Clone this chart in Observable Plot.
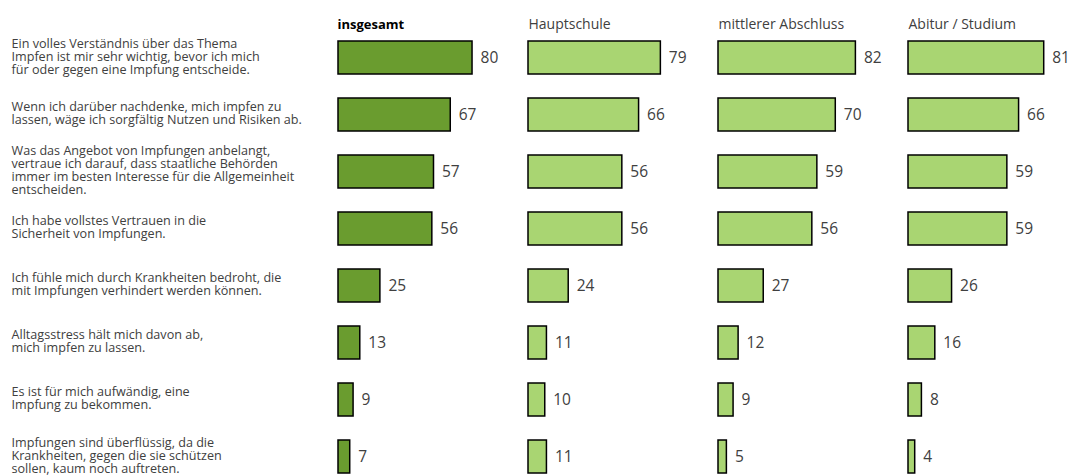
<!DOCTYPE html>
<html>
<head>
<meta charset="utf-8">
<script src="https://cdn.jsdelivr.net/npm/d3@7"></script>
<script src="https://cdn.jsdelivr.net/npm/@observablehq/plot@0.6"></script>
<style>
  html, body { margin: 0; padding: 0; background: #fff; overflow: hidden; }
  svg { font-family: "Open Sans", sans-serif; }
</style>
</head>
<body>
<div id="chart"></div>
<script>
const groups = ["insgesamt", "Hauptschule", "mittlerer Abschluss", "Abitur / Studium"];
const statements = [
  "Ein volles Verständnis über das Thema\nImpfen ist mir sehr wichtig, bevor ich mich\nfür oder gegen eine Impfung entscheide.",
  "Wenn ich darüber nachdenke, mich impfen zu\nlassen, wäge ich sorgfältig Nutzen und Risiken ab.",
  "Was das Angebot von Impfungen anbelangt,\nvertraue ich darauf, dass staatliche Behörden\nimmer im besten Interesse für die Allgemeinheit\nentscheiden.",
  "Ich habe vollstes Vertrauen in die\nSicherheit von Impfungen.",
  "Ich fühle mich durch Krankheiten bedroht, die\nmit Impfungen verhindert werden können.",
  "Alltagsstress hält mich davon ab,\nmich impfen zu lassen.",
  "Es ist für mich aufwändig, eine\nImpfung zu bekommen.",
  "Impfungen sind überflüssig, da die\nKrankheiten, gegen die sie schützen\nsollen, kaum noch auftreten."
];
const insgesamt = [80, 67, 57, 56, 25, 13, 9, 7];
const hauptschule = [79, 66, 56, 56, 24, 11, 10, 11];
const mittlererAbschluss = [82, 70, 59, 56, 27, 12, 9, 5];
const abiturStudium = [81, 66, 59, 59, 26, 16, 8, 4];

const series = [insgesamt, hauptschule, mittlererAbschluss, abiturStudium];
const data = [];
groups.forEach((g, gi) => statements.forEach((s, si) => data.push({group: g, statement: s, value: series[gi][si]})));

const dark = "#6a9c2f";
const light = "#a9d572";

const chart = Plot.plot({
  width: 1073,
  height: 476,
  marginLeft: 337,
  marginRight: 0,
  marginTop: 0,
  marginBottom: 0,
  fx: {domain: groups, range: [337, 1098.5], padding: 0, axis: null},
  x: {domain: [0, 113.4], axis: null},
  y: {domain: statements, range: [28.5, 485.5], paddingInner: 0.42, paddingOuter: 0.21, axis: null},
  color: {domain: groups, range: [dark, light, light, light]},
  marks: [
    Plot.barX(data, {fx: "group", y: "statement", x: "value", fill: "group", stroke: "#000", strokeWidth: 1.5}),
    Plot.text(data, {fx: "group", y: "statement", x: "value", text: d => String(d.value), textAnchor: "start", dx: 8, fontSize: 15.5, fill: "#404040"}),
    Plot.text(groups.slice(0, 1), {fx: d => d, text: d => d, frameAnchor: "top-left", dy: 24, dx: -1, lineAnchor: "middle", textAnchor: "start", fontSize: 13, fontWeight: "bold", fill: "#000"}),
    Plot.text(groups.slice(1), {fx: d => d, text: d => d, frameAnchor: "top-left", dy: 24, lineAnchor: "middle", textAnchor: "start", fontSize: 14, fill: "#404040"}),
    Plot.text(statements, {fx: () => groups[0], y: d => d, text: d => d, frameAnchor: "left", dx: -327, dy: -1.5, textAnchor: "start", lineAnchor: "middle", fontSize: 12.6, lineHeight: 1.04, fill: "#404040"})
  ]
});
document.getElementById("chart").append(chart);
</script>
</body>
</html>
